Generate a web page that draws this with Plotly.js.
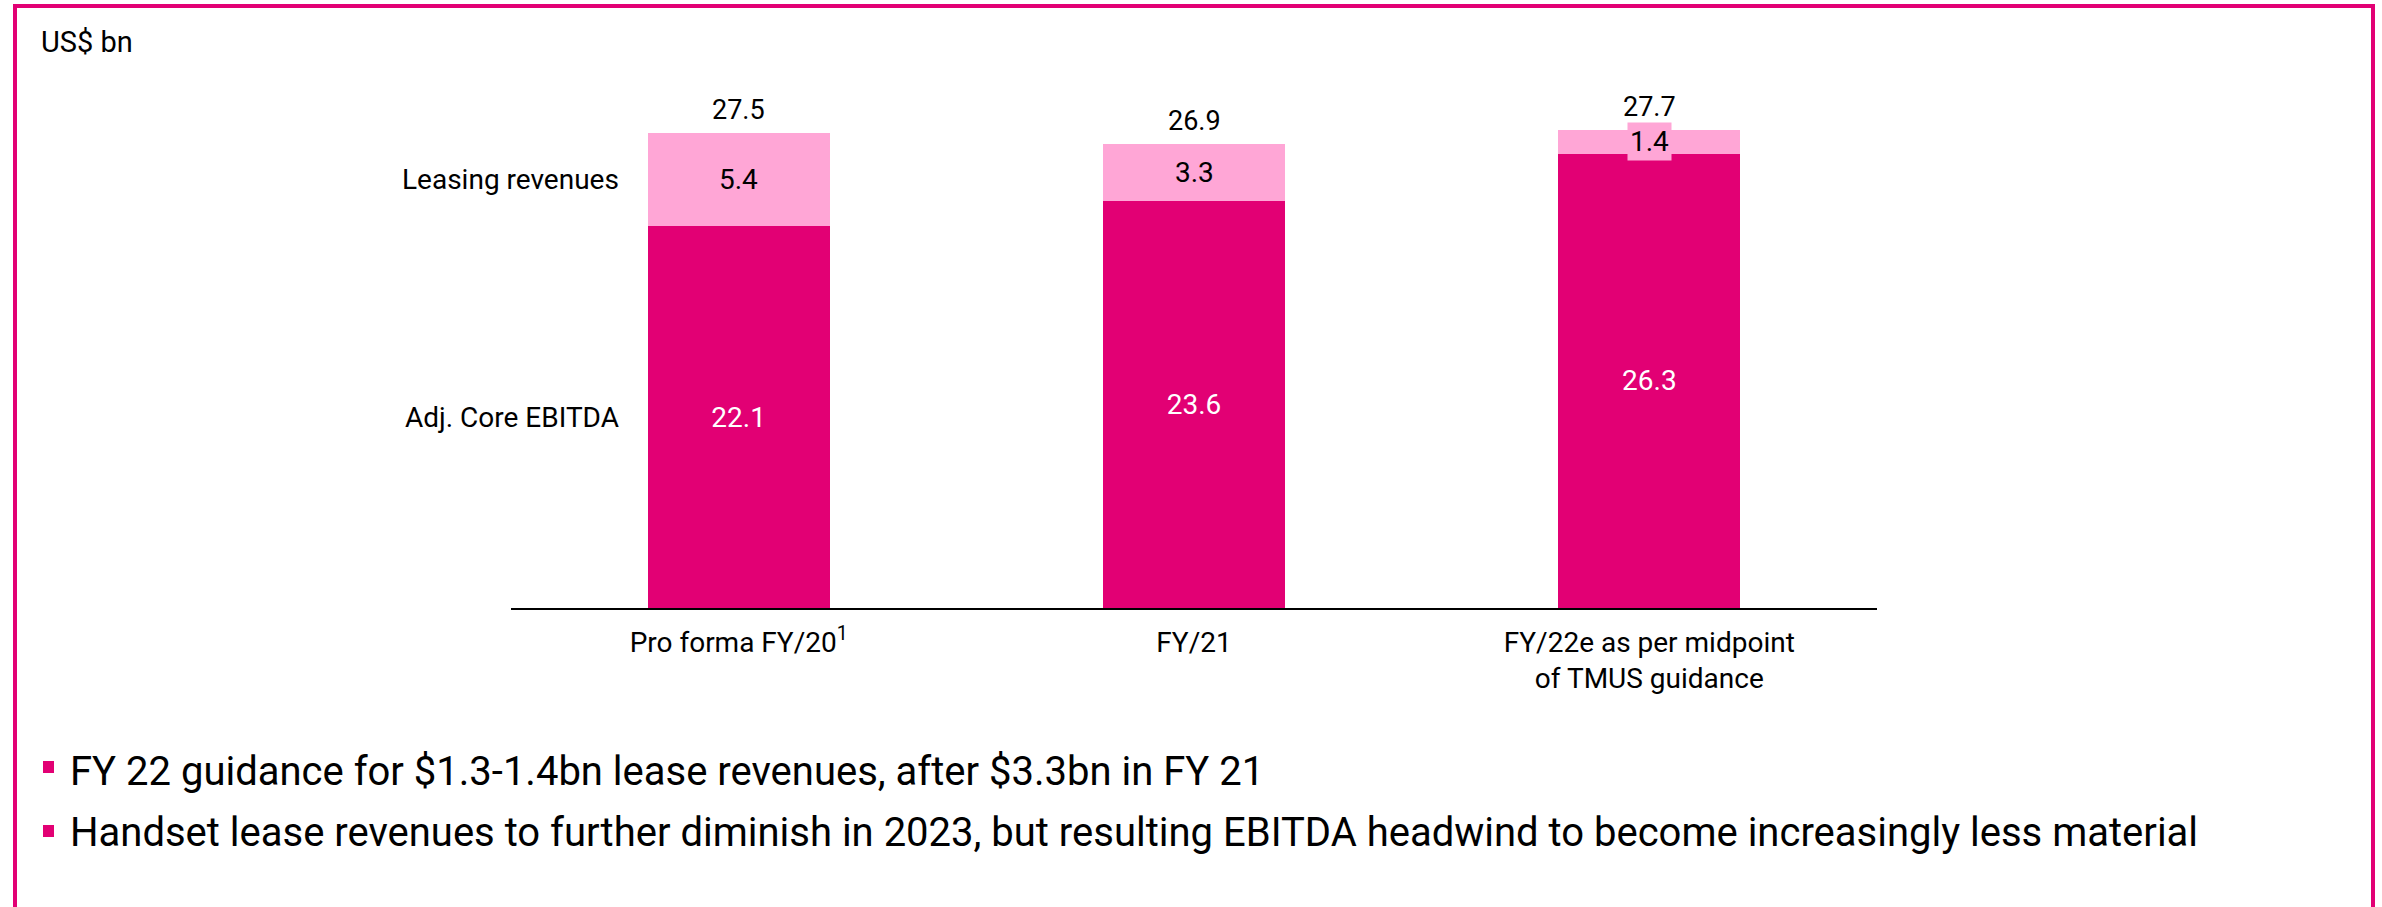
<!DOCTYPE html>
<html>
<head>
<meta charset="utf-8">
<script src="https://cdn.plot.ly/plotly-3.0.1.min.js"></script>
<style>
  html, body { margin: 0; padding: 0; background: #ffffff; }
  #chart { width: 2382px; height: 907px; }
</style>
</head>
<body>
<div id="chart"></div>
<script>
// ---- data ----
const categories = ["Pro forma FY/20<sup>1</sup>", "FY/21", "FY/22e as per midpoint<br>of TMUS guidance"];
const ebitda = [22.1, 23.6, 26.3];
const leasing = [5.4, 3.3, 1.4];
const totals = [27.5, 26.9, 27.7];
const seriesNames = ["Adj. Core EBITDA", "Leasing revenues"];
const unitLabel = "US$ bn";
const bullets = [
  "FY 22 guidance for $1.3-1.4bn lease revenues, after $3.3bn in FY 21",
  "Handset lease revenues to further diminish in 2023, but resulting EBITDA headwind to become increasingly less material"
];

// ---- style ----
const MAGENTA = "#E20074";
const LIGHT = "#FFA6D6";
const FONT = "Roboto, 'Noto Sans', sans-serif";
const W = 2382, H = 907;
const M = { l: 511, r: 505, t: 90, b: 299 };
const PW = W - M.l - M.r, PH = H - M.t - M.b;
const px = x => (x - M.l) / PW;          // pixel -> paper x
const py = y => (H - M.b - y) / PH;       // pixel -> paper y

const traces = [
  {
    type: "bar", name: seriesNames[0], x: categories, y: ebitda,
    marker: { color: MAGENTA, line: { width: 0 } },
    text: ebitda.map(v => v.toFixed(1)), textposition: "inside",
    insidetextanchor: "middle", constraintext: "none",
    textfont: { color: "#ffffff", size: 28, family: FONT },
    hoverinfo: "y+name"
  },
  {
    type: "bar", name: seriesNames[1], x: categories, y: leasing,
    marker: { color: LIGHT, line: { width: 0 } },
    hoverinfo: "y+name"
  }
];

const annotations = [];
categories.forEach((c, i) => {
  annotations.push({
    xref: "x", yref: "y", x: c, y: ebitda[i] + leasing[i] / 2,
    text: leasing[i].toFixed(1), showarrow: false,
    font: { size: 28, color: "#000000", family: FONT },
    bgcolor: LIGHT, borderpad: 2
  });
  annotations.push({
    xref: "x", yref: "y", x: c, y: totals[i],
    text: totals[i].toFixed(1), showarrow: false, yanchor: "bottom", yshift: 5,
    font: { size: 27, color: "#000000", family: FONT }
  });
});
annotations.push({
  xref: "paper", yref: "y", x: px(621), xanchor: "right",
  y: ebitda[0] + leasing[0] / 2, text: seriesNames[1], showarrow: false,
  font: { size: 28, color: "#000000", family: FONT }
});
annotations.push({
  xref: "paper", yref: "y", x: px(621), xanchor: "right",
  y: ebitda[0] / 2, text: seriesNames[0], showarrow: false,
  font: { size: 28, color: "#000000", family: FONT }
});
annotations.push({
  xref: "paper", yref: "paper", x: px(39), xanchor: "left",
  y: py(42), yanchor: "middle", text: unitLabel, showarrow: false,
  font: { size: 29, color: "#000000", family: FONT }
});
const bulletY = [767, 831];
const textY = [771, 832];
bullets.forEach((b, i) => {
  annotations.push({
    xref: "paper", yref: "paper", x: px(68), xanchor: "left",
    y: py(textY[i]), yanchor: "middle", text: b, showarrow: false,
    font: { size: 40, color: "#000000", family: FONT }
  });
});

const shapes = [
  {
    type: "path", xref: "paper", yref: "paper",
    path: `M ${px(15)} ${py(920)} L ${px(15)} ${py(6)} L ${px(2373)} ${py(6)} L ${px(2373)} ${py(920)}`,
    line: { color: MAGENTA, width: 4 }
  }
];
bulletY.forEach(y => {
  shapes.push({
    type: "rect", xref: "paper", yref: "paper",
    x0: px(43), x1: px(54), y0: py(y - 6), y1: py(y + 6),
    fillcolor: MAGENTA, line: { width: 0 }
  });
});

const layout = {
  width: W, height: H,
  margin: M,
  paper_bgcolor: "#ffffff", plot_bgcolor: "#ffffff",
  barmode: "stack", bargap: 0.6,
  showlegend: false,
  font: { family: FONT, color: "#000000" },
  xaxis: {
    type: "category", showline: true, linecolor: "#000000", linewidth: 2,
    ticks: "", showgrid: false, zeroline: false,
    tickfont: { size: 28, family: FONT, color: "#000000" },
    ticklabelstandoff: 8, fixedrange: true
  },
  yaxis: {
    range: [0, 30], visible: false, showgrid: false, zeroline: false, fixedrange: true
  },
  annotations: annotations,
  shapes: shapes
};

Plotly.newPlot("chart", traces, layout, { displayModeBar: false, staticPlot: true });
</script>
</body>
</html>
